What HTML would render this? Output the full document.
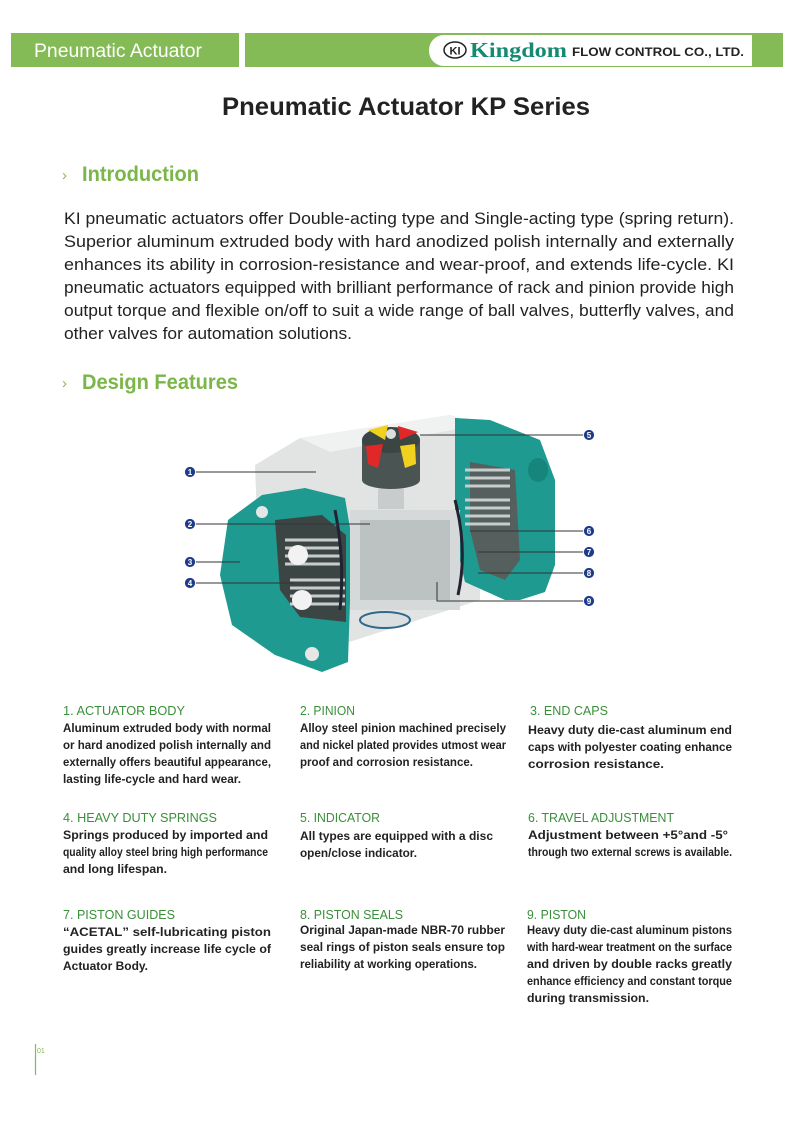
<!DOCTYPE html>
<html><head><meta charset="utf-8"><style>
html,body{margin:0;padding:0;background:#fff}
svg{display:block}
text{font-family:"Liberation Sans",Arial,sans-serif}
</style></head><body>
<svg width="800" height="1121" viewBox="0 0 800 1121" xmlns="http://www.w3.org/2000/svg">
<!-- header -->
<rect x="11" y="33" width="228" height="34" fill="#84bb56"/>
<rect x="245" y="33" width="538" height="34" fill="#84bb56"/>
<path d="M444 35 H752 V66 H444 A15 15 0 0 1 429 51 V50 A15 15 0 0 1 444 35Z" fill="#fff"/>
<text x="34" y="57" font-size="19" fill="#fff" textLength="168" lengthAdjust="spacingAndGlyphs">Pneumatic Actuator</text>
<ellipse cx="455" cy="50" rx="11" ry="8" fill="none" stroke="#222" stroke-width="1.5"/>
<text x="455" y="54.5" font-size="11" font-weight="bold" text-anchor="middle" fill="#222">KI</text>
<text x="470" y="57" font-size="21" font-weight="bold" fill="#158a72" style="font-family:'Liberation Serif',serif" textLength="97" lengthAdjust="spacingAndGlyphs">Kingdom</text>
<text x="572" y="56" font-size="12" font-weight="bold" fill="#222" textLength="172" lengthAdjust="spacingAndGlyphs">FLOW CONTROL CO., LTD.</text>

<text x="406" y="115" font-size="25" font-weight="bold" fill="#222" text-anchor="middle" textLength="368" lengthAdjust="spacingAndGlyphs">Pneumatic Actuator KP Series</text>

<!-- Introduction -->
<text x="62" y="180" font-size="15" fill="#84bb56">›</text>
<text x="82" y="181" font-size="21" font-weight="bold" fill="#7ab648" textLength="117" lengthAdjust="spacingAndGlyphs">Introduction</text>
<g font-size="17" fill="#222">
<text x="64" y="224" textLength="670" lengthAdjust="spacingAndGlyphs">KI pneumatic actuators offer Double-acting type and Single-acting type (spring return).</text>
<text x="64" y="247" textLength="670" lengthAdjust="spacingAndGlyphs">Superior aluminum extruded body with hard anodized polish internally and externally</text>
<text x="64" y="270" textLength="670" lengthAdjust="spacingAndGlyphs">enhances its ability in corrosion-resistance and wear-proof, and extends life-cycle. KI</text>
<text x="64" y="293" textLength="670" lengthAdjust="spacingAndGlyphs">pneumatic actuators equipped with brilliant performance of rack and pinion provide high</text>
<text x="64" y="316" textLength="670" lengthAdjust="spacingAndGlyphs">output torque and flexible on/off to suit a wide range of ball valves, butterfly valves, and</text>
<text x="64" y="339" textLength="288" lengthAdjust="spacingAndGlyphs">other valves for automation solutions.</text>
</g>
<text x="62" y="388" font-size="15" fill="#84bb56">›</text>
<text x="82" y="389" font-size="21" font-weight="bold" fill="#7ab648" textLength="156" lengthAdjust="spacingAndGlyphs">Design Features</text>

<!-- diagram -->
<g>
<path d="M255 465 L300 438 L450 415 L480 425 L480 600 L340 645 L260 605Z" fill="#e2e4e4"/>
<path d="M300 438 L450 415 L480 425 L330 452Z" fill="#f0f1f1"/>
<!-- right cap -->
<path d="M455 418 L490 420 L540 440 L555 480 L555 565 L545 592 L520 600 L505 600 L465 582 L455 540Z" fill="#1e9a90"/>
<ellipse cx="538" cy="470" rx="10" ry="12" fill="#16857c"/>
<path d="M470 462 L515 470 L520 560 L505 580 L480 570 L470 530Z" fill="#55605e"/>
<!-- left cap -->
<path d="M228 520 L262 495 L305 488 L345 498 L352 540 L348 662 L322 672 L275 655 L232 625 L220 575Z" fill="#1e9a90"/>
<path d="M275 520 L322 515 L346 535 L346 622 L300 617 L280 590Z" fill="#3b4644"/>
<g fill="none" stroke="#c8cccc" stroke-width="3">
<path d="M285 540 h55 M285 548 h55 M285 556 h55 M285 564 h55 M290 580 h55 M290 588 h55 M290 596 h55 M290 604 h55"/>
<path d="M465 470 h45 M465 478 h45 M465 486 h45 M465 500 h45 M465 508 h45 M465 516 h45 M465 524 h45"/>
</g>
<circle cx="298" cy="555" r="10" fill="#f2f2f2"/>
<circle cx="302" cy="600" r="10" fill="#f2f2f2"/>
<rect x="350" y="510" width="110" height="100" fill="#d6d9d9"/>
<rect x="360" y="520" width="90" height="80" fill="#bcc2c2"/>
<ellipse cx="385" cy="620" rx="25" ry="8" fill="#dcdfdf" stroke="#2f6a8a" stroke-width="2"/>
<path d="M335 510 Q345 560 340 610" stroke="#223" stroke-width="3" fill="none"/>
<path d="M455 500 Q468 550 458 595" stroke="#223" stroke-width="3" fill="none"/>
<rect x="362" y="440" width="58" height="40" fill="#4a5553"/>
<ellipse cx="391" cy="480" rx="29" ry="9" fill="#4a5553"/>
<ellipse cx="391" cy="440" rx="29" ry="13" fill="#3b4644"/>
<path d="M368 430 L388 425 L385 440Z" fill="#f0d21e"/>
<path d="M398 426 L418 432 L400 440Z" fill="#e02828"/>
<path d="M366 446 L383 444 L378 468 L368 464Z" fill="#e02828"/>
<path d="M400 446 L415 444 L416 464 L405 468Z" fill="#f0d21e"/>
<circle cx="391" cy="434" r="5" fill="#ddd"/>
<rect x="378" y="489" width="26" height="20" fill="#c9cccc"/>
<circle cx="312" cy="654" r="7" fill="#e6e6e6"/>
<circle cx="262" cy="512" r="6" fill="#e6e6e6"/>
</g>
<g stroke="#333" stroke-width="1" fill="none">
<line x1="195" y1="472" x2="316" y2="472"/>
<line x1="195" y1="524" x2="370" y2="524"/>
<line x1="195" y1="562" x2="240" y2="562"/>
<line x1="195" y1="583" x2="295" y2="583"/>
<line x1="420" y1="435" x2="585" y2="435"/>
<line x1="470" y1="531" x2="585" y2="531"/>
<line x1="478" y1="552" x2="585" y2="552"/>
<line x1="478" y1="573" x2="585" y2="573"/>
<polyline points="437,582 437,601 585,601"/>
</g>
<g fill="#1e3a8a" stroke="#fff" stroke-width="0.8">
<circle cx="190" cy="472" r="5.5"/><circle cx="190" cy="524" r="5.5"/><circle cx="190" cy="562" r="5.5"/><circle cx="190" cy="583" r="5.5"/>
<circle cx="589" cy="435" r="5.5"/><circle cx="589" cy="531" r="5.5"/><circle cx="589" cy="552" r="5.5"/><circle cx="589" cy="573" r="5.5"/><circle cx="589" cy="601" r="5.5"/>
</g>
<g font-size="8" font-weight="bold" fill="#fff" text-anchor="middle">
<text x="190" y="475">1</text><text x="190" y="527">2</text><text x="190" y="565">3</text><text x="190" y="586">4</text>
<text x="589" y="438">5</text><text x="589" y="534">6</text><text x="589" y="555">7</text><text x="589" y="576">8</text><text x="589" y="604">9</text>
</g>

<!-- features -->
<g font-size="13" fill="#3a8f3a">
<text x="63" y="715" textLength="122" lengthAdjust="spacingAndGlyphs">1. ACTUATOR BODY</text>
<text x="300" y="715" textLength="55" lengthAdjust="spacingAndGlyphs">2. PINION</text>
<text x="530" y="715" textLength="78" lengthAdjust="spacingAndGlyphs">3. END CAPS</text>
<text x="63" y="822" textLength="154" lengthAdjust="spacingAndGlyphs">4. HEAVY DUTY SPRINGS</text>
<text x="300" y="822" textLength="80" lengthAdjust="spacingAndGlyphs">5. INDICATOR</text>
<text x="528" y="822" textLength="146" lengthAdjust="spacingAndGlyphs">6. TRAVEL ADJUSTMENT</text>
<text x="63" y="919" textLength="112" lengthAdjust="spacingAndGlyphs">7. PISTON GUIDES</text>
<text x="300" y="919" textLength="103" lengthAdjust="spacingAndGlyphs">8. PISTON SEALS</text>
<text x="527" y="919" textLength="59" lengthAdjust="spacingAndGlyphs">9. PISTON</text>
</g>
<g font-size="12" font-weight="bold" fill="#222">
<text x="63" y="732" textLength="208" lengthAdjust="spacingAndGlyphs">Aluminum extruded body with normal</text>
<text x="63" y="749" textLength="208" lengthAdjust="spacingAndGlyphs">or hard anodized polish internally and</text>
<text x="63" y="766" textLength="208" lengthAdjust="spacingAndGlyphs">externally offers beautiful appearance,</text>
<text x="63" y="783" textLength="178" lengthAdjust="spacingAndGlyphs">lasting life-cycle and hard wear.</text>
<text x="300" y="732" textLength="206" lengthAdjust="spacingAndGlyphs">Alloy steel pinion machined precisely</text>
<text x="300" y="749" textLength="206" lengthAdjust="spacingAndGlyphs">and nickel plated provides utmost wear</text>
<text x="300" y="766" textLength="173" lengthAdjust="spacingAndGlyphs">proof and corrosion resistance.</text>
<text x="528" y="734" textLength="204" lengthAdjust="spacingAndGlyphs">Heavy duty die-cast aluminum end</text>
<text x="528" y="751" textLength="204" lengthAdjust="spacingAndGlyphs">caps with polyester coating enhance</text>
<text x="528" y="768" textLength="136" lengthAdjust="spacingAndGlyphs">corrosion resistance.</text>
<text x="63" y="839" textLength="205" lengthAdjust="spacingAndGlyphs">Springs produced by imported and</text>
<text x="63" y="856" textLength="205" lengthAdjust="spacingAndGlyphs">quality alloy steel bring high performance</text>
<text x="63" y="873" textLength="104" lengthAdjust="spacingAndGlyphs">and long lifespan.</text>
<text x="300" y="840" textLength="193" lengthAdjust="spacingAndGlyphs">All types are equipped with a disc</text>
<text x="300" y="857" textLength="117" lengthAdjust="spacingAndGlyphs">open/close indicator.</text>
<text x="528" y="839" textLength="200" lengthAdjust="spacingAndGlyphs">Adjustment between +5°and -5°</text>
<text x="528" y="856" textLength="204" lengthAdjust="spacingAndGlyphs">through two external screws is available.</text>
<text x="63" y="936" textLength="208" lengthAdjust="spacingAndGlyphs">“ACETAL” self-lubricating piston</text>
<text x="63" y="953" textLength="208" lengthAdjust="spacingAndGlyphs">guides greatly increase life cycle of</text>
<text x="63" y="970" textLength="85" lengthAdjust="spacingAndGlyphs">Actuator Body.</text>
<text x="300" y="934" textLength="205" lengthAdjust="spacingAndGlyphs">Original Japan-made NBR-70 rubber</text>
<text x="300" y="951" textLength="205" lengthAdjust="spacingAndGlyphs">seal rings of piston seals ensure top</text>
<text x="300" y="968" textLength="177" lengthAdjust="spacingAndGlyphs">reliability at working operations.</text>
<text x="527" y="934" textLength="205" lengthAdjust="spacingAndGlyphs">Heavy duty die-cast aluminum pistons</text>
<text x="527" y="951" textLength="205" lengthAdjust="spacingAndGlyphs">with hard-wear treatment on the surface</text>
<text x="527" y="968" textLength="205" lengthAdjust="spacingAndGlyphs">and driven by double racks greatly</text>
<text x="527" y="985" textLength="205" lengthAdjust="spacingAndGlyphs">enhance efficiency and constant torque</text>
<text x="527" y="1002" textLength="122" lengthAdjust="spacingAndGlyphs">during transmission.</text>
</g>
<line x1="35.5" y1="1044" x2="35.5" y2="1075" stroke="#84bb56" stroke-width="1.2"/>
<text x="37" y="1053" font-size="7" fill="#84bb56">01</text>
</svg>
</body></html>
